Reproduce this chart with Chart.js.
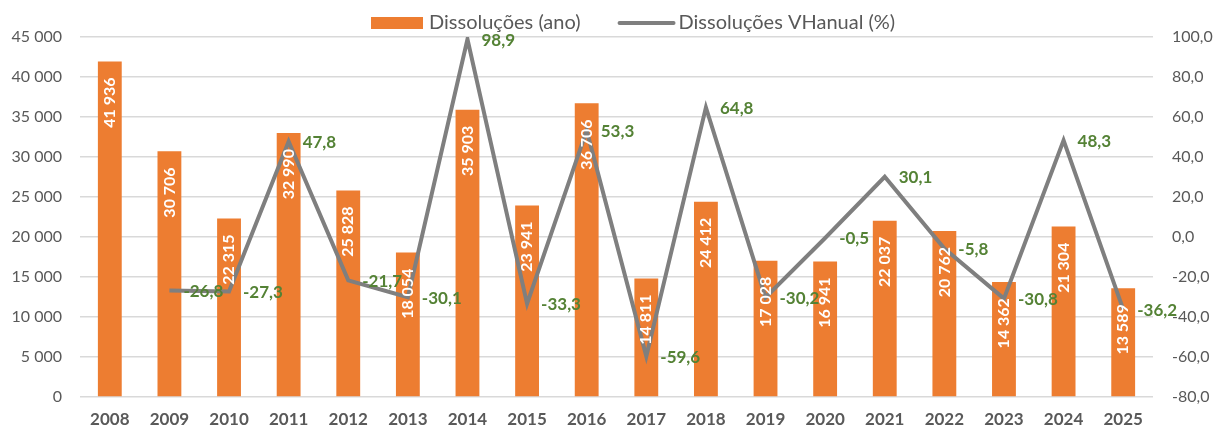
<!DOCTYPE html>
<html lang="pt">
<head>
<meta charset="utf-8">
<title>Dissoluções</title>
<script src="https://cdn.jsdelivr.net/npm/chart.js@4/dist/chart.umd.min.js"></script>
<style>
    html, body { margin: 0; padding: 0; background: #ffffff; }
    #chart { display: block; }
</style>
</head>
<body>
<canvas id="chart" width="1216" height="429"></canvas>
<script>
//--- Data
var years = ['2008', '2009', '2010', '2011', '2012', '2013', '2014', '2015', '2016',
    '2017', '2018', '2019', '2020', '2021', '2022', '2023', '2024', '2025'];
var dissolucoes = [41936, 30706, 22315, 32990, 25828, 18054, 35903, 23941, 36706,
    14811, 24412, 17028, 16941, 22037, 20762, 14362, 21304, 13589];
var variacao = [null, -26.8, -27.3, 47.8, -21.7, -30.1, 98.9, -33.3, 53.3,
    -59.6, 64.8, -30.2, -0.5, 30.1, -5.8, -30.8, 48.3, -36.2];
var barLabel = 'Dissoluções (ano)';
var lineLabel = 'Dissoluções VHanual (%)';

//--- Colours / fonts
var orange = '#ED7D31';
var grey = '#7F7F7F';
var green = '#548235';
var axisText = '#595959';
var gridColor = '#D9D9D9';
var fontName = 'Lato';

Chart.defaults.font.family = fontName;
Chart.defaults.color = axisText;

//--- helpers
function milhares(v) {
    return String(Math.round(v)).replace(/\B(?=(\d{3})+(?!\d))/g, ' ');
}
function decimal(v) {
    return v.toFixed(1).replace('.', ',');
}

//--- value labels (bars rotated inside, line values at right of the point)
var valueLabels = {
    id: 'valueLabels',
    afterDatasetsDraw: function (chart) {
        var ctx = chart.ctx;
        ctx.save();
        var barMeta = chart.getDatasetMeta(0);
        ctx.font = 'bold 16px ' + fontName;
        ctx.fillStyle = '#ffffff';
        ctx.textAlign = 'right';
        ctx.textBaseline = 'middle';
        barMeta.data.forEach(function (bar, i) {
            ctx.save();
            ctx.translate(bar.x, bar.y + 16);
            ctx.rotate(-Math.PI / 2);
            ctx.fillText(milhares(dissolucoes[i]), 0, 0);
            ctx.restore();
        });
        var lineMeta = chart.getDatasetMeta(1);
        ctx.font = 'bold 17px ' + fontName;
        ctx.fillStyle = green;
        ctx.textAlign = 'left';
        lineMeta.data.forEach(function (pt, i) {
            if (variacao[i] === null) return;
            ctx.fillText(decimal(variacao[i]), pt.x + 14, pt.y + 1);
        });
        ctx.restore();
    }
};

//--- legend drawn on top
var topLegend = {
    id: 'topLegend',
    afterDraw: function (chart) {
        var ctx = chart.ctx;
        ctx.save();
        ctx.font = '20px ' + fontName;
        ctx.textBaseline = 'middle';
        ctx.textAlign = 'left';
        var y = 23;
        var x = 371;
        ctx.fillStyle = orange;
        ctx.fillRect(x, y - 6, 52, 12);
        x += 58;
        ctx.fillStyle = axisText;
        ctx.fillText(barLabel, x, y);
        x += ctx.measureText(barLabel).width + 39;
        ctx.strokeStyle = grey;
        ctx.lineWidth = 4;
        ctx.lineCap = 'round';
        ctx.beginPath();
        ctx.moveTo(x, y);
        ctx.lineTo(x + 54, y);
        ctx.stroke();
        x += 59;
        ctx.fillText(lineLabel, x, y);
        ctx.restore();
    }
};

new Chart(document.getElementById('chart'), {
    type: 'bar',
    data: {
        labels: years,
        datasets: [{
            label: barLabel,
            data: dissolucoes,
            backgroundColor: orange,
            borderWidth: 0,
            categoryPercentage: 1,
            barPercentage: 0.4,
            yAxisID: 'y',
            order: 2
        }, {
            type: 'line',
            label: lineLabel,
            data: variacao,
            borderColor: grey,
            backgroundColor: grey,
            borderWidth: 4,
            pointRadius: 0,
            tension: 0,
            yAxisID: 'y1',
            order: 1
        }]
    },
    options: {
        responsive: false,
        animation: false,
        layout: { padding: { top: 37, left: 0, right: 0, bottom: 0 } },
        plugins: {
            legend: { display: false },
            tooltip: { enabled: false }
        },
        scales: {
            x: {
                grid: { display: false },
                border: { display: false },
                ticks: {
                    font: { size: 17, weight: 'bold' },
                    color: axisText,
                    padding: 4,
                    maxRotation: 0
                },
                afterFit: function (s) { s.height = 32; }
            },
            y: {
                position: 'left',
                min: 0,
                max: 45000,
                ticks: {
                    stepSize: 5000,
                    font: { size: 16 },
                    color: axisText,
                    padding: 18,
                    callback: function (v) { return milhares(v); }
                },
                grid: { color: gridColor, lineWidth: 1.5, drawTicks: false },
                border: { display: false },
                afterFit: function (s) { s.width = 80; }
            },
            y1: {
                position: 'right',
                min: -80,
                max: 100,
                ticks: {
                    stepSize: 20,
                    font: { size: 16 },
                    color: axisText,
                    padding: 19,
                    callback: function (v) { return decimal(v); }
                },
                grid: { display: false, drawTicks: false },
                border: { display: false },
                afterFit: function (s) { s.width = 63; }
            }
        }
    },
    plugins: [valueLabels, topLegend]
});
</script>
</body>
</html>
